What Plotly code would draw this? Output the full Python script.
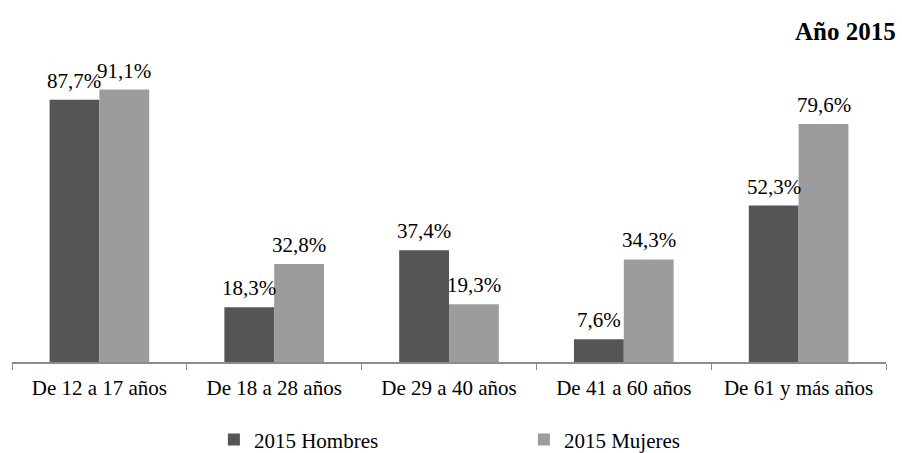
import plotly.graph_objects as go

categories = ["De 12 a 17 años", "De 18 a 28 años", "De 29 a 40 años",
              "De 41 a 60 años", "De 61 y más años"]
hombres = [87.7, 18.3, 37.4, 7.6, 52.3]
mujeres = [91.1, 32.8, 19.3, 34.3, 79.6]


def pct(v):
    return f"{v:.1f}".replace(".", ",") + "%"


serif = "Liberation Serif"

fig = go.Figure()
fig.add_trace(go.Bar(
    name="2015 Hombres", x=categories, y=hombres,
    marker=dict(color="#555555", line=dict(width=0)),
))
fig.add_trace(go.Bar(
    name="2015 Mujeres", x=categories, y=mujeres,
    marker=dict(color="#9c9c9c", line=dict(width=0)),
))

# value labels above each bar (bars of a group sit 25 px either side of the category)
labels = []
for series, shift in ((hombres, -25), (mujeres, 25)):
    for cat, v in zip(categories, series):
        labels.append(dict(
            x=cat, y=v, xref="x", yref="y", text=pct(v), showarrow=False,
            xshift=shift, yshift=5, yanchor="bottom", xanchor="center",
            font=dict(size=21, family=serif, color="#000000"),
        ))

labels.append(dict(
    text="<b>Año 2015</b>", xref="paper", yref="paper",
    x=1.0, xanchor="right", y=1.107, yanchor="middle",
    showarrow=False, font=dict(size=25, family=serif, color="#000000"),
    xshift=12,
))

fig.update_layout(
    width=902, height=453,
    margin=dict(l=12, r=16, t=63, b=91, autoexpand=False),
    paper_bgcolor="white", plot_bgcolor="white",
    font=dict(family=serif, size=21, color="#000000"),
    barmode="group", bargap=0.43, bargroupgap=0.0,
    showlegend=True,
    legend=dict(
        orientation="h", x=0.231, xanchor="left", y=-0.192, yanchor="top",
        entrywidth=265, entrywidthmode="pixels",
        font=dict(size=21, family=serif), itemwidth=30,
    ),
    annotations=labels,
)
fig.update_xaxes(
    showline=True, linecolor="#8c8c8c", linewidth=2,
    ticks="outside", tickson="boundaries", ticklen=6, tickcolor="#8c8c8c",
    tickwidth=1, showgrid=False, ticklabelstandoff=6,
    tickfont=dict(size=21, family=serif),
)
fig.update_yaxes(range=[0, 100], visible=False, showgrid=False)

fig.write_html("out.html")
